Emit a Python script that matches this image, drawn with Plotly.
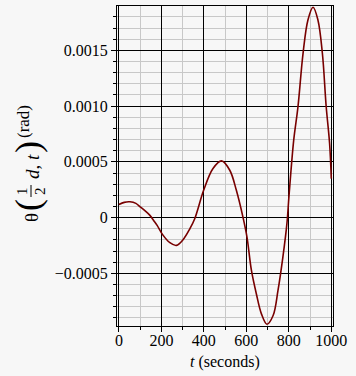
import plotly.graph_objects as go

# data
t_values = [0, 25, 52, 80, 100, 125, 146, 165, 180, 205, 240, 271, 302, 334, 357,
            399, 443, 483, 522, 553, 584, 603, 624, 647, 671, 697, 726, 749, 772,
            791, 801, 823, 843, 867, 890, 914, 937, 958, 976, 992, 1000]
theta_values = [0.000117, 0.000137, 0.000142, 0.000128, 0.000097, 0.000058, 0.000020,
                -0.000030, -0.000070, -0.000150, -0.000225, -0.000249, -0.000198,
                -0.000100, -0.000010, 0.000245, 0.000440, 0.000509, 0.000425,
                0.000245, 0.000005, -0.000174, -0.000474, -0.000683, -0.000863,
                -0.000956, -0.000878, -0.000653, -0.000354, -0.000054, 0.000200,
                0.000695, 0.000994, 0.001474, 0.001773, 0.001887, 0.001773,
                0.001474, 0.000994, 0.000665, 0.000350]

x_tick_vals = [0, 200, 400, 600, 800, 1000]
x_tick_text = ["0", "200", "400", "600", "800", "1000"]
y_tick_vals = [-0.0005, 0, 0.0005, 0.0010, 0.0015]
y_tick_text = ["\u22120.0005", "0", "0.0005", "0.0010", "0.0015"]
x_title = "<i>t</i> (seconds)"

FONT = "'Liberation Serif', 'Times New Roman', serif"
BG = "#f7f7f7"
W, H = 356, 376
ML, MR, MT, MB = 117, 23, 6, 50
PW, PH = W - ML - MR, H - MT - MB


def px(x, y):
    """pixel position in the figure -> paper coordinates"""
    return (x - ML) / PW, (H - MB - y) / PH


fig = go.Figure()
fig.add_trace(go.Scatter(
    x=t_values, y=theta_values, mode="lines",
    line=dict(color="#780000", width=1.6, shape="spline", smoothing=1.0),
    hoverinfo="skip", showlegend=False))

fig.update_xaxes(
    range=[-9, 1008], tickmode="array", tickvals=x_tick_vals, ticktext=x_tick_text,
    showgrid=True, gridcolor="black", gridwidth=1,
    ticks="outside", ticklen=5, tickcolor="black", tickwidth=1,
    ticklabelstandoff=-5,
    minor=dict(tickmode="linear", tick0=0, dtick=100, showgrid=True,
               gridcolor="#c8c8c8", gridwidth=1, ticks="outside", ticklen=3,
               tickcolor="black"),
    showline=True, linecolor="black", linewidth=1, mirror=True, zeroline=False,
    tickfont=dict(family=FONT, size=16, color="black"))

fig.update_yaxes(
    range=[-0.000972, 0.001898], tickmode="array", tickvals=y_tick_vals, ticktext=y_tick_text,
    showgrid=True, gridcolor="black", gridwidth=1,
    ticks="outside", ticklen=5, tickcolor="black", tickwidth=1,
    minor=dict(tickmode="linear", tick0=0, dtick=0.0001, showgrid=True,
               gridcolor="#c8c8c8", gridwidth=1, ticks="outside", ticklen=3,
               tickcolor="black"),
    showline=True, linecolor="black", linewidth=1, mirror=True, zeroline=False,
    tickfont=dict(family=FONT, size=16, color="black"))

# x axis title
x0, y0 = px(225, 362)
fig.add_annotation(text=x_title, xref="paper", yref="paper", x=x0, y=y0,
                   xanchor="center", yanchor="middle", showarrow=False,
                   font=dict(family=FONT, size=16, color="black"))

# y axis title: theta( 1/2 d, t )^(rad), typeset in pieces, rotated
y_title_parts = [
    ("\u03b8", 31, 218, 19),
    ("(", 28, 205, 36),
    ("1", 22, 191, 15),
    ("2", 40, 191, 15),
    ("<i>d</i>, <i>t</i>", 32, 167, 19),
    (")", 28, 147, 36),
    ("(rad)", 23, 122, 17),
]
for txt, xx, yy, size in y_title_parts:
    ax_, ay_ = px(xx, yy)
    fig.add_annotation(text=txt, xref="paper", yref="paper", x=ax_, y=ay_,
                       xanchor="center", yanchor="middle", textangle=-90,
                       showarrow=False,
                       font=dict(family=FONT, size=size, color="black"))
bx, by0 = px(31, 185)
_, by1 = px(31, 197)
fig.add_shape(type="line", xref="paper", yref="paper", x0=bx, x1=bx, y0=by0, y1=by1,
              line=dict(color="black", width=1))

fig.update_layout(
    width=W, height=H, autosize=False,
    font=dict(family=FONT, color="black"),
    margin=dict(l=ML, r=MR, t=MT, b=MB, pad=0),
    paper_bgcolor=BG, plot_bgcolor=BG)

fig.write_html("out.html", config={"displayModeBar": False},
               post_script="document.body.style.margin='0';document.body.style.background='%s';" % BG)
